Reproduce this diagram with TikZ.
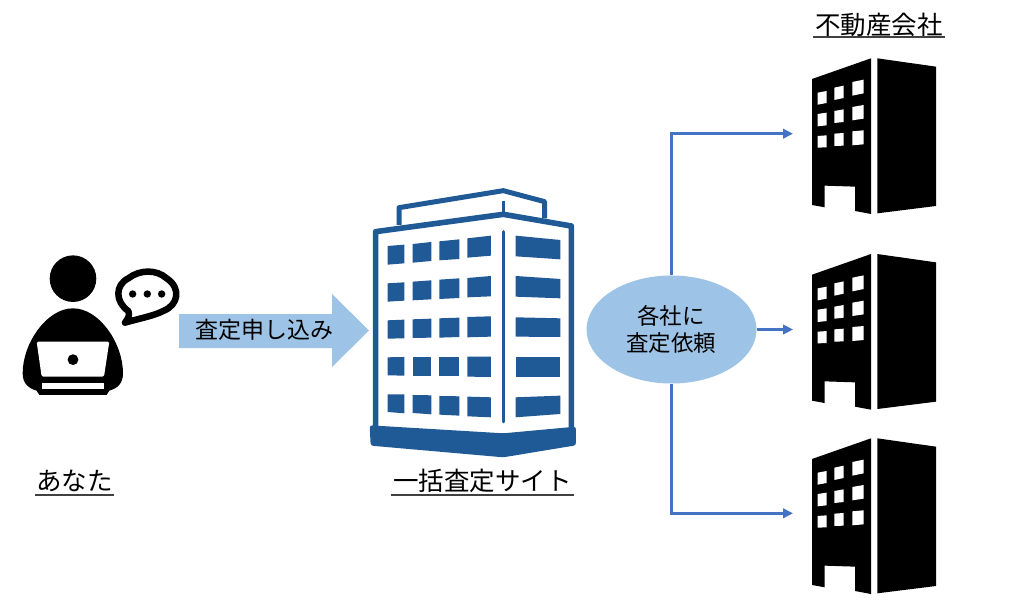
\documentclass[tikz,border=0pt]{standalone}
\usepackage{fontspec}
\setmainfont{Noto Sans CJK JP}
\usetikzlibrary{arrows.meta,shapes.geometric}
\definecolor{lightblue}{HTML}{9DC3E6}
\definecolor{linkblue}{HTML}{4472C4}
\definecolor{towerblue}{HTML}{205A96}
\newcommand{\towerwin}[6]{\fill[towerblue] (#1,#3) -- (#2,#4) -- (#2,#6) -- (#1,#5) -- cycle;}
\newcommand{\cowin}[6]{\fill[white] (#1,#3) -- (#2,#4) -- (#2,#6) -- (#1,#5) -- cycle;}
\newcommand{\company}[1]{%
\begin{scope}[shift={(790,#1)},x=0.3333pt,y=-0.3333pt]
\fill[black] (66,117) -- (243,55) -- (243,522) -- (195,513) -- (195,440) -- (104,437) -- (104,502) -- (66,495) -- cycle;
\fill[black] (262,55) -- (438,80) -- (438,498) -- (262,520) -- cycle;
\cowin{83}{110}{158}{153}{194}{189}
\cowin{133}{161}{143}{137}{180}{174}
\cowin{187}{221}{126}{119}{167}{160}
\cowin{83}{110}{222}{218}{259}{256}
\cowin{133}{161}{213}{208}{249}{246}
\cowin{187}{221}{201}{195}{241}{236}
\cowin{83}{110}{288}{286}{323}{322}
\cowin{133}{161}{281}{279}{318}{317}
\cowin{187}{221}{274}{271}{316}{313}
\end{scope}}
\tikzset{
  lbl/.style={inner sep=0pt,font=\fontsize{25.5}{27}\selectfont},
  midlbl/.style={inner sep=0pt,align=center,font=\fontsize{22.5}{27}\selectfont},
  ul/.style={draw=black!75,line width=1.8pt},
  link/.style={draw=linkblue,line width=2.4pt,-{Triangle[length=10pt,width=9.5pt]}},
  request/.style={ellipse,fill=lightblue,minimum width=170pt,minimum height=108pt,inner sep=0pt}
}
\begin{document}
\begin{tikzpicture}[x=1pt,y=-1pt]
\useasboundingbox (0,0) rectangle (1024,601);
\fill[white] (0,0) rectangle (1024,601);
% person
\begin{scope}[shift={(0,230)},x=0.3333pt,y=-0.3333pt]
\fill[black] (219,146) circle[radius=23.3pt];
\fill[black] (219,235) .. controls (140,235) and (68,340) .. (68,430)
  .. controls (68,460) and (85,475) .. (110,482) -- (118,495) -- (320,495) -- (328,482)
  .. controls (353,475) and (369,460) .. (369,430)
  .. controls (369,340) and (298,235) .. (219,235) -- cycle;
\fill[white,rounded corners=1.5pt] (110,335) -- (328,335) -- (312,440) -- (125,440) -- cycle;
\fill[black] (219,389) circle[radius=5.4pt];
\fill[white] (127,460) rectangle (311,476);
\draw[black,line width=6.5pt,line join=round,fill=white] (385,243)
  .. controls (345,215) and (345,165) .. (385,145)
  .. controls (420,118) and (470,118) .. (500,145)
  .. controls (545,175) and (535,225) .. (490,243)
  .. controls (460,258) and (420,265) .. (375,278)
  .. controls (385,265) and (390,255) .. (385,243) -- cycle;
\fill[black] (398,192) circle[radius=3.7pt];
\fill[black] (442,192) circle[radius=3.7pt];
\fill[black] (485,192) circle[radius=3.7pt];
\end{scope}
% big arrow
\fill[lightblue] (179,314) -- (332,314) -- (332,294) -- (369,330.5) -- (332,367) -- (332,348) -- (179,348) -- cycle;
\node[inner sep=0pt,font=\fontsize{23}{27}\selectfont] (apply) at (264,330) {査定申し込み};
% tower
\begin{scope}[shift={(350,180)},x=0.3333pt,y=-0.3333pt]
\draw[towerblue,line width=5.6pt,line join=round] (77,745) -- (77,155) -- (460,103) -- (664,138) -- (664,745);
\draw[towerblue,line width=5pt,line join=round] (147,135) -- (147,83) -- (460,32) -- (584,65) -- (584,115);
\draw[towerblue,line width=2.8pt] (461,62) -- (461,100);
\draw[towerblue,line width=3pt,line cap=round] (461,155) -- (461,726);
\fill[towerblue,rounded corners=2.5pt] (59,736) -- (460,760) -- (678,740) -- (678,796) -- (460,832) -- (62,797) -- cycle;
\towerwin{113}{163}{198}{194}{254}{250}
\towerwin{188}{244}{192}{186}{248}{243}
\towerwin{268}{328}{184}{178}{241}{237}
\towerwin{352}{423}{175}{167}{233}{227}
\towerwin{113}{163}{310}{307}{365}{362}
\towerwin{188}{244}{305}{301}{361}{358}
\towerwin{268}{328}{299}{295}{357}{354}
\towerwin{352}{423}{294}{288}{352}{349}
\towerwin{113}{163}{421}{419}{476}{475}
\towerwin{188}{244}{418}{416}{474}{473}
\towerwin{268}{328}{415}{413}{473}{471}
\towerwin{352}{423}{411}{409}{472}{470}
\towerwin{113}{163}{532}{531}{586}{587}
\towerwin{188}{244}{531}{531}{587}{587}
\towerwin{268}{328}{531}{531}{589}{589}
\towerwin{352}{423}{530}{530}{590}{591}
\towerwin{113}{163}{643}{643}{696}{700}
\towerwin{188}{244}{645}{646}{699}{703}
\towerwin{268}{328}{648}{649}{704}{707}
\towerwin{352}{423}{650}{652}{709}{712}
\towerwin{497}{631}{167}{180}{229}{238}
\towerwin{497}{631}{288}{297}{350}{355}
\towerwin{497}{631}{412}{415}{470}{471}
\towerwin{497}{631}{531}{531}{590}{590}
\towerwin{497}{631}{652}{647}{712}{702}
\end{scope}
% companies
\company{40}
\company{235.7}
\company{420}
% labels
\node[lbl] (you) at (74.5,481) {あなた};
\draw[ul] (35,495) -- (114,495);
\node[lbl] (site) at (482.5,481) {一括査定サイト};
\draw[ul] (391,495) -- (574,495);
\node[lbl] (firms) at (879,25) {不動産会社};
\draw[ul] (813,37) -- (945,37);
% request ellipse
\node[request] (req) at (671.5,329.5) {};
\node[midlbl] (reqtext) at (671,329) {各社に\\査定依頼};
% connectors
\coordinate (co1) at (793,133.7);
\coordinate (co2) at (793,329.5);
\coordinate (co3) at (793,513.3);
\draw[link] (req.north) |- (co1);
\draw[link] (req.east) -- (co2);
\draw[link] (req.south) |- (co3);
\end{tikzpicture}
\end{document}
